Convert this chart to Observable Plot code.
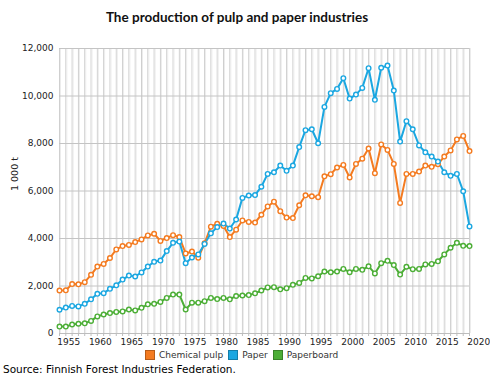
<!DOCTYPE html>
<html><head><meta charset="utf-8">
<script src="https://cdn.jsdelivr.net/npm/d3@7"></script>
<script src="https://cdn.jsdelivr.net/npm/@observablehq/plot@0.6"></script>
<style>
body{margin:0;background:#fff;}
#wrap{position:relative;width:490px;height:379px;overflow:hidden;}
#title{position:absolute;left:0;width:474px;top:9px;text-align:center;font:bold 13.5px Lato,sans-serif;color:#111;}
#chart{position:absolute;left:0;top:30px;}
#legend{position:absolute;top:350px;left:145px;font:9px "DejaVu Sans",sans-serif;color:#333;display:flex;align-items:center;white-space:nowrap;}
#legend .sw{display:inline-block;width:8px;height:8px;margin-right:4px;border:1px solid rgba(0,0,0,0.25);}
#legend .it{display:flex;align-items:center;margin-right:5px;}
#source{position:absolute;left:3px;top:363px;font:10.5px "DejaVu Sans",sans-serif;color:#000;white-space:nowrap;}
</style></head>
<body>
<div id="wrap">
<div id="title">The production of pulp and paper industries</div>
<div id="chart"></div>
<div id="legend"></div>
<div id="source">Source: Finnish Forest Industries Federation.</div>
</div>
<script>
const years = d3.range(1954, 2020);
const chemicalPulp = [1810,1820,2080,2070,2160,2470,2820,2930,3180,3540,
3680,3730,3850,3960,4130,4200,3900,4020,4140,4060,
3370,3450,3190,3800,4500,4620,4530,4060,4370,4760,
4700,4670,5000,5350,5550,5150,4880,4860,5400,5820,
5780,5740,6620,6710,6990,7100,6570,7140,7360,7790,
6750,7960,7730,7140,5500,6720,6720,6820,7070,7020,
7130,7450,7710,8170,8320,7680];
const paper = [1000,1090,1160,1140,1250,1440,1670,1700,1880,2030,
2270,2440,2400,2570,2820,3020,3070,3470,3820,3870,
2960,3200,3330,3770,4220,4480,4630,4420,4800,5710,
5810,5830,6180,6720,6790,7070,6850,7070,7850,8560,
8600,8010,9540,10120,10300,10750,9890,10060,10340,11170,
9840,11190,11280,10230,8080,8940,8600,7920,7630,7450,
7240,6790,6640,6720,5990,4510];
const paperboard = [290,290,380,410,430,530,720,800,860,910,
930,1010,970,1080,1230,1250,1330,1500,1640,1640,
1010,1300,1300,1360,1500,1450,1500,1440,1580,1600,
1620,1690,1810,1940,1950,1860,1910,2050,2130,2340,
2320,2410,2610,2580,2610,2720,2580,2720,2680,2830,
2530,2960,3060,2880,2480,2810,2710,2720,2910,2930,
3040,3330,3610,3820,3690,3680];
const seriesNames = ["Chemical pulp", "Paper", "Paperboard"];
const seriesColors = ["#f47b20", "#1ba7e1", "#4cae36"];
const yTicks = [0,2000,4000,6000,8000,10000,12000];
const xTickLabels = [1955,1960,1965,1970,1975,1980,1985,1990,1995,2000,2005,2010,2015,2020];

const rows = [];
[chemicalPulp, paper, paperboard].forEach((arr, si) => {
  arr.forEach((v, i) => rows.push({year: years[i], value: v, series: seriesNames[si]}));
});

const chart = Plot.plot({
  width: 490,
  height: 322,
  marginTop: 18,
  marginBottom: 19,
  marginLeft: 59,
  marginRight: 21,
  style: {fontFamily: "'DejaVu Sans', sans-serif", fontSize: "9px", color: "#222", background: "transparent"},
  x: {domain: [1954, 2019], label: null},
  y: {domain: [0, 12000], label: null},
  color: {domain: seriesNames, range: seriesColors},
  marks: [
    Plot.ruleX(years, {x: d => d, stroke: "#cfcfcf", strokeWidth: 1}),
    Plot.ruleX(years, {x: d => d, dx: 1, stroke: "#ececec", strokeWidth: 1}),
    Plot.ruleY(yTicks.slice(1), {y: d => d, stroke: "#c4c4c4", strokeWidth: 1}),
    Plot.ruleY([0], {stroke: "#bdbdbd", strokeWidth: 1}),
    Plot.axisX(years, {tickSize: 3, stroke: "#bdbdbd", text: null, label: null}),
    Plot.axisX(xTickLabels, {tickSize: 0, tickPadding: 5, dx: 3, tickFormat: d => String(d), fill: "#222", label: null, fontSize: 9}),
    Plot.axisY(yTicks, {tickSize: 0, tickPadding: 6, tickFormat: d3.format(","), fill: "#222", label: null, fontSize: 9}),
    Plot.text(["1 000 t"], {frameAnchor: "left", dx: -45, rotate: -90, fill: "#222", fontSize: 9.5}),
    Plot.line(rows, {x: "year", y: "value", z: "series", stroke: "series", strokeWidth: 2}),
    Plot.dot(rows, {x: "year", y: "value", stroke: "series", fill: "white", r: 2.3, strokeWidth: 1.4})
  ]
});
document.getElementById("chart").appendChild(chart);

const leg = document.getElementById("legend");
seriesNames.forEach((n, i) => {
  const it = document.createElement("span");
  it.className = "it";
  const sw = document.createElement("span");
  sw.className = "sw";
  sw.style.background = seriesColors[i];
  it.appendChild(sw);
  it.appendChild(document.createTextNode(n));
  leg.appendChild(it);
});
</script>
</body></html>
